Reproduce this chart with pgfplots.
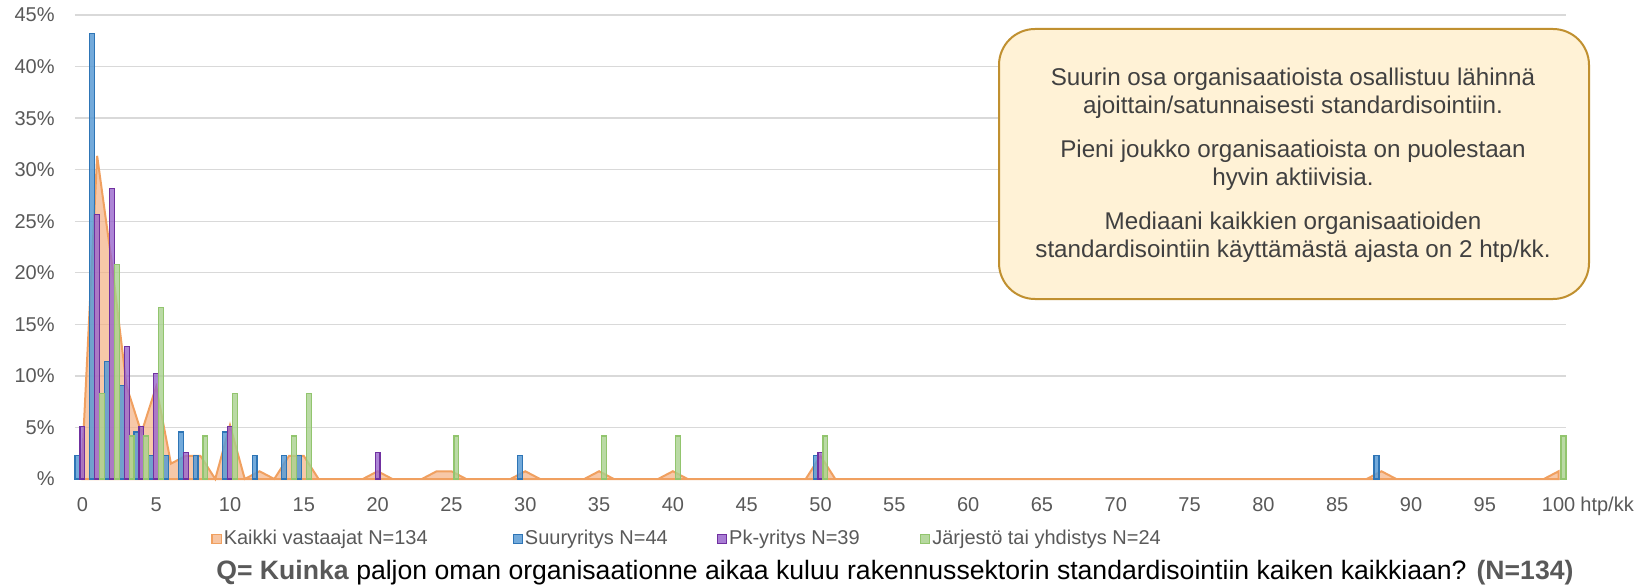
\documentclass[border=0pt]{standalone}
\usepackage{fontspec}
\setmainfont{Liberation Sans}
\usepackage{pgfplots}
\pgfplotsset{compat=1.18}
\definecolor{gridc}{HTML}{D9D9D9}
\definecolor{txt}{HTML}{595959}
\definecolor{orF}{HTML}{F4B183}
\definecolor{orL}{HTML}{F0A060}
\definecolor{blF}{HTML}{5B9BD5}
\definecolor{blL}{HTML}{2E75B6}
\definecolor{puF}{HTML}{9966CC}
\definecolor{puL}{HTML}{7030A0}
\definecolor{grF}{HTML}{A9D18E}
\definecolor{grL}{HTML}{92C56E}
\definecolor{boxF}{HTML}{FFF2D6}
\definecolor{boxL}{HTML}{C09030}
\definecolor{boxT}{HTML}{404040}
\begin{document}
\begin{tikzpicture}
\useasboundingbox (0,0) rectangle (825.5pt,292.5pt);
\begin{axis}[
  at={(37.5pt,53pt)}, anchor=south west,
  scale only axis, width=745.5pt, height=232pt,
  xmin=-0.5, xmax=100.5, ymin=0, ymax=45,
  xtick={0,5,...,100}, ytick={0,5,...,45},
  yticklabels={\%,5\%,10\%,15\%,20\%,25\%,30\%,35\%,40\%,45\%},
  ymajorgrids, major grid style={draw=gridc, line width=0.65pt},
  axis line style={draw=none},
  major tick length=0pt,
  tick label style={font=\fontsize{10}{12}\selectfont, text=txt, inner sep=0pt},
  /pgf/number format/assume math mode=true,
  xticklabel style={yshift=-9pt},
  yticklabel style={xshift=-10pt},
  clip=false,
  legend image code/.code={\draw[#1] (0pt,-2.3pt) rectangle (4.6pt,2.3pt);},
  legend columns=4,
  legend style={at={(axis description cs:0.0912,-0.1293)}, anchor=west,
    draw=none, fill=none, inner sep=0pt, font=\fontsize{10}{12}\selectfont, text=txt,
    nodes={inner sep=0pt},
    /tikz/every even column/.append style={column sep=0pt},
    /tikz/every odd column/.append style={column sep=0pt}},
]
\addlegendimage{fill=orF, fill opacity=0.75, draw=orL, line width=0.6pt}
\addlegendentry{\makebox[145.4pt][l]{\hspace{1pt}Kaikki vastaajat N=134}}
\addlegendimage{fill=blF, fill opacity=0.85, draw=blL, line width=0.6pt}
\addlegendentry{\makebox[96.9pt][l]{\hspace{1pt}Suuryritys N=44}}
\addlegendimage{fill=puF, fill opacity=0.85, draw=puL, line width=0.6pt}
\addlegendentry{\makebox[96.4pt][l]{\hspace{1pt}Pk-yritys N=39}}
\addlegendimage{fill=grF, fill opacity=0.85, draw=grL, line width=0.6pt}
\addlegendentry{\hspace{1pt}Järjestö tai yhdistys N=24}

% Kaikki vastaajat (area)
\addplot[draw=orL, line width=1pt, fill=orF, fill opacity=0.7, forget plot] coordinates {
(0,2.24) (1,31.34) (2,20.90) (3,8.96) (4,4.48) (5,8.96) (6,1.49) (7,2.24) (8,2.24)
(9,0) (10,5.22) (11,0) (12,0.75) (13,0) (14,2.24) (15,2.24) (16,0)
(19,0) (20,0.75) (21,0) (23,0) (24,0.75) (25,0.75) (26,0) (29,0) (30,0.75) (31,0)
(34,0) (35,0.75) (36,0) (39,0) (40,0.75) (41,0) (49,0) (50,2.24) (51,0)
(87,0) (88,0.75) (89,0) (99,0) (100,0.75)
} \closedcycle;

% Suuryritys
\addplot[ybar, bar width=0.3333, bar shift=-0.3333, fill=blF, fill opacity=0.85, draw=blL, line width=0.6pt, forget plot] coordinates {
(0,2.27) (1,43.18) (2,11.36) (3,9.09) (4,4.55) (5,2.27) (6,2.27) (7,4.55) (8,2.27)
(10,4.55) (12,2.27) (14,2.27) (15,2.27) (30,2.27) (50,2.27) (88,2.27)
};
% Pk-yritys
\addplot[ybar, bar width=0.3333, bar shift=0, fill=puF, fill opacity=0.8, draw=puL, line width=0.6pt, forget plot] coordinates {
(0,5.13) (1,25.64) (2,28.21) (3,12.82) (4,5.13) (5,10.26) (7,2.56) (10,5.13) (20,2.56) (50,2.56)
};
% Jarjesto
\addplot[ybar, bar width=0.3333, bar shift=0.3333, fill=grF, fill opacity=0.8, draw=grL, line width=0.6pt, forget plot] coordinates {
(1,8.33) (2,20.83) (3,4.17) (4,4.17) (5,16.67) (8,4.17) (10,8.33) (14,4.17) (15,8.33)
(25,4.17) (35,4.17) (40,4.17) (50,4.17) (100,4.17)
};
\end{axis}
\node[anchor=base west, inner sep=0pt, font=\fontsize{10}{12}\selectfont, text=txt] at (790pt,37pt) {htp/kk};
\node[anchor=base west, inner sep=0pt, font=\fontsize{13.3}{15}\selectfont] at (108pt,3pt)
  {\textcolor{txt}{\textbf{Q= Kuinka}} paljon oman organisaationne aikaa kuluu rakennussektorin standardisointiin kaiken kaikkiaan? \textcolor{txt}{\textbf{(N=134)}}};
\node[draw=boxL, line width=1pt, fill=boxF, rounded corners=18pt, minimum width=295pt, minimum height=135pt, anchor=north west, inner sep=0pt] at (499pt,278.5pt) {};
\node[align=center, text=boxT, inner sep=0pt, font=\fontsize{12.1}{14.25}\selectfont] at (646.5pt,209.8pt)
  {Suurin osa organisaatioista osallistuu lähinnä\\ajoittain/satunnaisesti standardisointiin.\\[7.5pt]
   Pieni joukko organisaatioista on puolestaan\\hyvin aktiivisia.\\[7.5pt]
   Mediaani kaikkien organisaatioiden\\standardisointiin käyttämästä ajasta on 2 htp/kk.};
\end{tikzpicture}
\end{document}
